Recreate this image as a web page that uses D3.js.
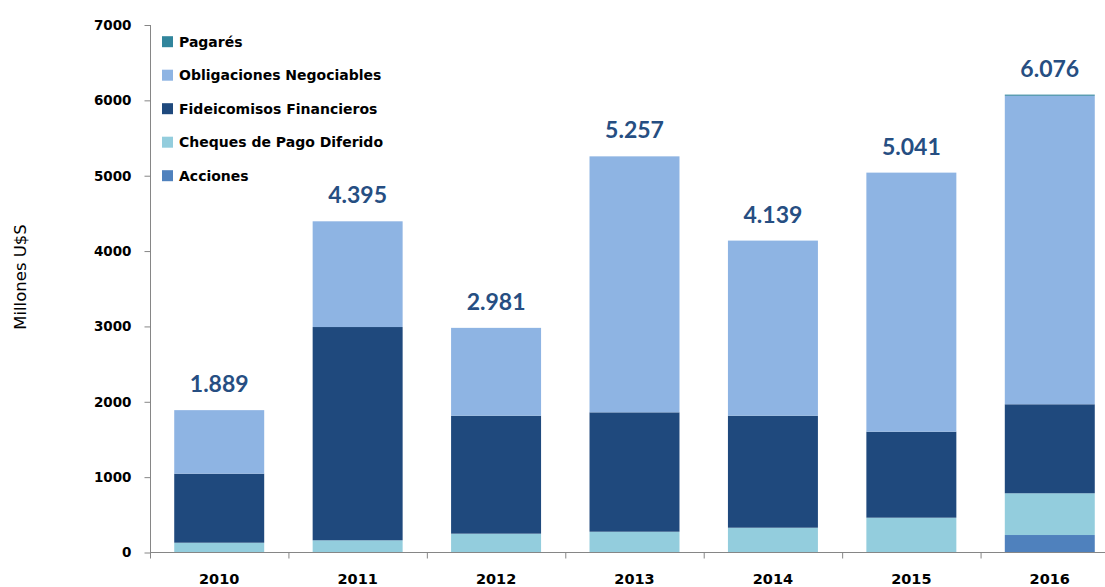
<!DOCTYPE html>
<html><head><meta charset="utf-8">
<script src="https://cdn.jsdelivr.net/npm/d3@7"></script>
<style>body{margin:0;background:#fff}svg{display:block}</style>
</head><body>
<svg id="c" width="1105" height="587"></svg>
<script>
const years = ["2010","2011","2012","2013","2014","2015","2016"];
const acciones = [0, 0, 0, 0, 0, 0, 232];
const cheques = [130, 162, 250, 276, 329, 462, 554];
const fideicomisos = [916, 2830, 1565, 1584, 1486, 1141, 1181];
const obligaciones = [843, 1403, 1166, 3397, 2324, 3438, 4094];
const pagares = [0, 0, 0, 0, 0, 0, 15];
const totals = [1889, 4395, 2981, 5257, 4139, 5041, 6076];
const totalLabels = ["1.889","4.395","2.981","5.257","4.139","5.041","6.076"];
const yTicks = [0,1000,2000,3000,4000,5000,6000,7000];
const seriesNames = ["Acciones","Cheques de Pago Diferido","Fideicomisos Financieros","Obligaciones Negociables","Pagarés"];
const seriesColors = ["#4F81BD","#93CDDD","#1F497D","#8EB4E3","#31859C"];
const legendOrder = ["Pagarés","Obligaciones Negociables","Fideicomisos Financieros","Cheques de Pago Diferido","Acciones"];

const seriesVals = [acciones, cheques, fideicomisos, obligaciones, pagares];
const rows = years.map((y,i)=>{const r={year:y}; seriesNames.forEach((s,k)=>r[s]=seriesVals[k][i]); return r;});
const stack = d3.stack().keys(seriesNames)(rows);

const svg = d3.select("#c");
const x = d3.scaleBand().domain(years).range([150,1119]).paddingInner(0.35).paddingOuter(0.175);
const y = d3.scaleLinear().domain([0,7000]).range([552.5,25]);
const color = d3.scaleOrdinal().domain(seriesNames).range(seriesColors);

// bars
svg.append("g").selectAll("g").data(stack).join("g")
  .attr("fill", d=>color(d.key))
  .selectAll("rect").data(d=>d).join("rect")
  .attr("x", d=>x(d.data.year))
  .attr("width", x.bandwidth())
  .attr("y", d=>y(d[1]))
  .attr("height", d=>Math.max(0, y(d[0])-y(d[1])));

// y axis
const ya = svg.append("g").attr("transform","translate(150.5,0)")
  .call(d3.axisLeft(y).tickValues(yTicks).tickSize(6).tickPadding(13).tickFormat(d3.format("d")));
ya.select(".domain").attr("stroke","#868686").attr("d","M0,25V552.5");
ya.selectAll(".tick line").attr("stroke","#868686");
ya.selectAll("text").attr("font-family","DejaVu Sans").attr("font-weight","bold").attr("font-size","13.5px").attr("fill","#000");

// x axis
const xa = svg.append("g").attr("transform","translate(0,552.5)");
xa.append("line").attr("x1",150).attr("x2",1105).attr("stroke","#868686");
const step = x.step();
xa.selectAll("line.t").data(years).join("line").attr("class","t")
  .attr("x1", d=>x(d)-x.bandwidth()*0.0 - (step-x.bandwidth())/2 + 0.5)
  .attr("x2", d=>x(d) - (step-x.bandwidth())/2 + 0.5)
  .attr("y1",0).attr("y2",6).attr("stroke","#868686");
xa.selectAll("text").data(years).join("text")
  .attr("x", d=>x(d)+x.bandwidth()/2).attr("y",31.5)
  .attr("text-anchor","middle").attr("font-family","DejaVu Sans").attr("font-weight","bold")
  .attr("font-size","14.5px").attr("fill","#000").text(d=>d);

// total labels
svg.append("g").selectAll("text").data(years).join("text")
  .attr("x", d=>x(d)+x.bandwidth()/2)
  .attr("y", (d,i)=>y(totals[i])-18)
  .attr("text-anchor","middle").attr("font-family","Lato").attr("font-weight","bold")
  .attr("font-size","23px").attr("fill","#264E82").text((d,i)=>totalLabels[i]);

// y title
svg.append("text").attr("transform","translate(26,277) rotate(-90)")
  .attr("text-anchor","middle").attr("font-family","DejaVu Sans").attr("font-size","16.5px")
  .attr("fill","#000").text("Millones U$S");

// legend
const lg = svg.append("g").selectAll("g").data(legendOrder).join("g")
  .attr("transform",(d,i)=>`translate(162,${41.7+i*33.5})`);
lg.append("rect").attr("x",0).attr("y",-5.5).attr("width",11).attr("height",11).attr("fill",d=>color(d));
lg.append("text").attr("x",17).attr("y",5).attr("font-family","DejaVu Sans").attr("font-weight","bold")
  .attr("font-size","14px").attr("fill","#000").text(d=>d);
</script>
</body></html>
